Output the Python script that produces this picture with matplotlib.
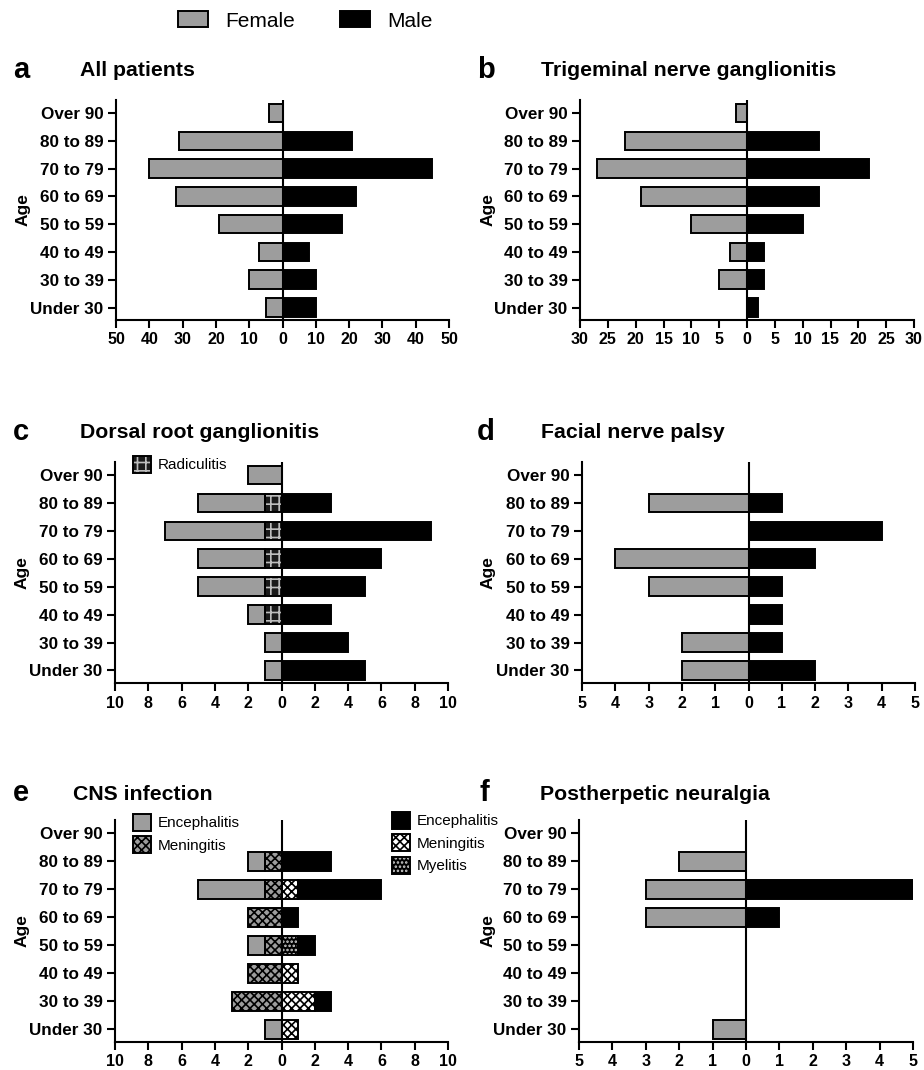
import numpy as np
import matplotlib
matplotlib.use("Agg")
import matplotlib.pyplot as plt
from matplotlib.patches import Patch
from matplotlib.ticker import FuncFormatter, MultipleLocator

plt.rcParams['font.family'] = ['Liberation Sans', 'DejaVu Sans']
plt.rcParams['hatch.linewidth'] = 1.2

# Age groups, bottom to top
ages = ['Under 30', '30 to 39', '40 to 49', '50 to 59',
        '60 to 69', '70 to 79', '80 to 89', 'Over 90']

# a - all patients
a_female = [5, 10, 7, 19, 32, 40, 31, 4]
a_male = [10, 10, 8, 18, 22, 45, 21, 0]
# b - trigeminal nerve ganglionitis
b_female = [0, 5, 3, 10, 19, 27, 22, 2]
b_male = [2, 3, 3, 10, 13, 22, 13, 0]
# c - dorsal root ganglionitis (female split: other / radiculitis)
c_female = [1, 1, 1, 4, 4, 6, 4, 2]
c_female_radic = [0, 0, 1, 1, 1, 1, 1, 0]
c_male = [5, 4, 3, 5, 6, 9, 3, 0]
# d - facial nerve palsy
d_female = [2, 2, 0, 3, 4, 0, 3, 0]
d_male = [2, 1, 1, 1, 2, 4, 1, 0]
# e - CNS infection
e_female_enc = [1, 0, 0, 1, 0, 4, 1, 0]
e_female_men = [0, 3, 2, 1, 2, 1, 1, 0]
e_male_men = [1, 2, 1, 0, 0, 1, 0, 0]
e_male_mye = [0, 0, 0, 1, 0, 0, 0, 0]
e_male_enc = [0, 1, 0, 1, 1, 5, 3, 0]
# f - postherpetic neuralgia
f_female = [1, 0, 0, 0, 3, 3, 2, 0]
f_male = [0, 0, 0, 0, 1, 5, 0, 0]

GRAY = '#9d9d9d'
BLACK = '#000000'
LW = 1.4
H = 0.67

# segment styles: (face, hatch, hatch colour)
STY = {
    'female': (GRAY, None, None),
    'male': (BLACK, None, None),
    'radic': ('#1a1a1a', '++', '#bdbdbd'),
    'f_men': (GRAY, 'xxxx', BLACK),
    'm_men': ('white', 'xxxx', BLACK),
    'mye': (BLACK, '....', '#d0d0d0'),
}

W, Hpx = 924, 1070
fig = plt.figure(figsize=(W / 100, Hpx / 100), dpi=100)


def px_axes(l, t, r, b):
    ax = fig.add_axes([l / W, 1 - b / Hpx, (r - l) / W, (b - t) / Hpx])
    ax._px = (l, r)
    return ax


def segs(ax, vals, left, style):
    face, hatch, hcol = STY[style]
    ys = np.arange(len(vals))
    for y, v, l0 in zip(ys, vals, left):
        if v == 0:
            continue
        if hatch:
            ax.barh(y, v, left=l0, height=H, color=face, edgecolor=hcol,
                    hatch=hatch, lw=0, zorder=2)
            ax.barh(y, v, left=l0, height=H, fill=False, edgecolor=BLACK,
                    lw=LW, zorder=3)
        else:
            ax.barh(y, v, left=l0, height=H, color=face, edgecolor=BLACK,
                    lw=LW, zorder=2)


def stack(ax, parts, sign):
    # parts: list of (values, style) from zero outward
    base = np.zeros(len(ages))
    for vals, style in parts:
        v = np.array(vals) * sign
        segs(ax, v, base, style)
        base = base + v


def setup(ax, lim, step, age_x):
    ax.set_xlim(-lim, lim)
    ax.set_ylim(-0.45, 7.47)
    ax.xaxis.set_major_locator(MultipleLocator(step))
    ax.xaxis.set_major_formatter(FuncFormatter(lambda v, p: f'{abs(v):g}'))
    ax.set_yticks(range(len(ages)))
    ax.set_yticklabels(ages)
    for s in ['top', 'right']:
        ax.spines[s].set_visible(False)
    for s in ['left', 'bottom']:
        ax.spines[s].set_linewidth(1.5)
    ax.tick_params(width=1.5, length=6, pad=3)
    ax.tick_params(axis='x', labelsize=11.5)
    ax.tick_params(axis='y', labelsize=12.3)
    for lab in ax.get_xticklabels() + ax.get_yticklabels():
        lab.set_fontweight('bold')
    ax.axvline(0, color=BLACK, lw=1.5, zorder=4)
    ax.set_ylabel('Age', fontsize=12.5, fontweight='bold')
    l, r = ax._px
    ax.yaxis.set_label_coords((age_x - l) / (r - l), 0.5)


def label(x, y, letter, tx, title):
    fig.text(x / W, 1 - y / Hpx, letter, fontsize=21, fontweight='bold',
             va='center', ha='left')
    fig.text(tx / W, 1 - (y + 1) / Hpx, title, fontsize=15.3,
             fontweight='bold', va='center', ha='left')


def hpatch(style):
    face, hatch, hcol = STY[style]
    if hatch:
        return (Patch(facecolor=face, edgecolor=hcol, hatch=hatch, lw=0),
                Patch(fill=False, edgecolor=BLACK, lw=LW))
    return Patch(facecolor=face, edgecolor=BLACK, lw=LW)


leg_kw = dict(frameon=False, fontsize=11, handlelength=1.2,
              handleheight=1.3, handletextpad=0.4, labelspacing=0.38,
              borderpad=0, borderaxespad=0, loc='upper left',
              bbox_transform=fig.transFigure)

# a
ax = px_axes(116, 100, 449, 320)
stack(ax, [(a_female, 'female')], -1)
stack(ax, [(a_male, 'male')], 1)
setup(ax, 50, 10, 31)
label(13, 70, 'a', 80, 'All patients')

# b
ax = px_axes(580, 100, 914, 320)
stack(ax, [(b_female, 'female')], -1)
stack(ax, [(b_male, 'male')], 1)
setup(ax, 30, 5, 496)
label(477, 70, 'b', 541, 'Trigeminal nerve ganglionitis')

# c
ax = px_axes(115, 462, 448, 683)
stack(ax, [(c_female_radic, 'radic'), (c_female, 'female')], -1)
stack(ax, [(c_male, 'male')], 1)
setup(ax, 10, 2, 30)
label(13, 432, 'c', 80, 'Dorsal root ganglionitis')
ax.legend([hpatch('radic')], ['Radiculitis'],
          bbox_to_anchor=(133 / W, 1 - 456 / Hpx), **leg_kw)

# d
ax = px_axes(582, 462, 915, 683)
stack(ax, [(d_female, 'female')], -1)
stack(ax, [(d_male, 'male')], 1)
setup(ax, 5, 1, 496)
label(477, 432, 'd', 541, 'Facial nerve palsy')

# e
ax = px_axes(115, 820, 448, 1042)
stack(ax, [(e_female_men, 'f_men'), (e_female_enc, 'female')], -1)
stack(ax, [(e_male_men, 'm_men'), (e_male_mye, 'mye'), (e_male_enc, 'male')], 1)
setup(ax, 10, 2, 30)
label(13, 793, 'e', 73, 'CNS infection')
lf = ax.legend([hpatch('female'), hpatch('f_men')], ['Encephalitis', 'Meningitis'],
               bbox_to_anchor=(133 / W, 1 - 814 / Hpx), **leg_kw)
ax.add_artist(lf)
ax.legend([hpatch('male'), hpatch('m_men'), hpatch('mye')],
          ['Encephalitis', 'Meningitis', 'Myelitis'],
          bbox_to_anchor=(392 / W, 1 - 812 / Hpx), **leg_kw)

# f
ax = px_axes(579, 820, 913, 1042)
stack(ax, [(f_female, 'female')], -1)
stack(ax, [(f_male, 'male')], 1)
setup(ax, 5, 1, 496)
label(479, 793, 'f', 540, 'Postherpetic neuralgia')

# top legend
fig.legend([hpatch('female'), hpatch('male')], ['Female', 'Male'],
           loc='center', bbox_to_anchor=(305 / W, 1 - 21 / Hpx), ncol=2,
           frameon=False, fontsize=15, handlelength=1.44, handleheight=0.77,
           handletextpad=0.82, columnspacing=2.16)

fig.savefig('out.png', dpi=100)
